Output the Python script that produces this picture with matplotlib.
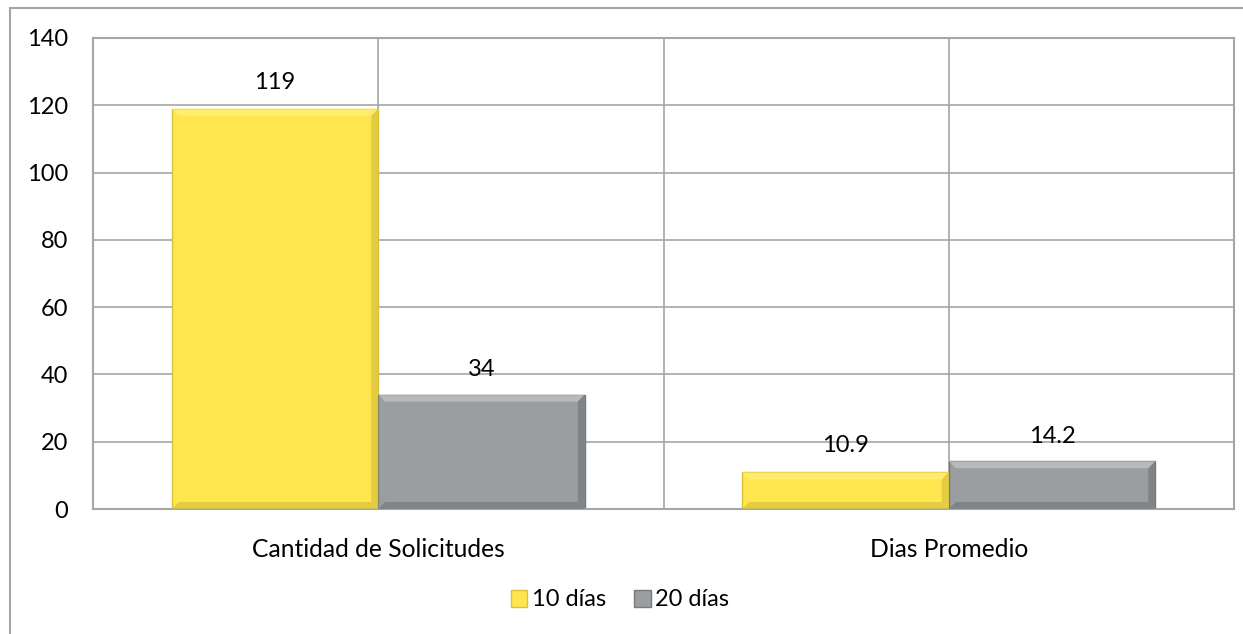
import numpy as np
import matplotlib
matplotlib.use("Agg")
import matplotlib.pyplot as plt
from matplotlib.patches import Polygon, Rectangle

# Data
categories = ["Cantidad de Solicitudes", "Dias Promedio"]
series_names = ["10 días", "20 días"]
values_10 = [119, 10.9]
values_20 = [34, 14.2]
value_labels_10 = ["119", "10.9"]
value_labels_20 = ["34", "14.2"]
y_ticks = [0, 20, 40, 60, 80, 100, 120, 140]

# Styles
yellow = "#FFE64F"
yellow_light = "#FFF07A"
yellow_dark = "#D9C23A"
gray = "#9B9EA1"
gray_light = "#C4C6C8"
gray_dark = "#77797B"
line_gray = "#A6A6A6"
plt.rcParams["font.family"] = ["Lato", "DejaVu Sans"]
plt.rcParams["font.size"] = 17

fig = plt.figure(figsize=(12.43, 6.34), dpi=100)
ax = fig.add_axes([93 / 1243, 1 - 509 / 634, (1234 - 93) / 1243, (509 - 38) / 634])

# outer chart border (only left/top visible in the crop)
fig.patches.append(Rectangle((10 / 1243, -0.1), 1.2, 1 - 8 / 634 + 0.1,
                             transform=fig.transFigure, fill=False,
                             edgecolor=line_gray, linewidth=1.5, zorder=0))

x = np.arange(len(categories))
w = 0.362

ax.set_xlim(-0.5, len(categories) - 0.5)
ax.set_ylim(0, 140)

# gridlines
for t in y_ticks:
    ax.axhline(t, color=line_gray, linewidth=1.2, zorder=0)
for gx in np.arange(-0.5, len(categories), 0.5):
    ax.axvline(gx, color=line_gray, linewidth=1.2, zorder=0)

# bevel size in data units (about 7 px)
bx = 7 * (len(categories)) / (1234 - 93)
by = 7 * 140 / (509 - 38)


def bevel_bar(x0, h, face, light, dark):
    x1 = x0 + w
    ax.bar(x0, h, width=w, align="edge", color=face, edgecolor=dark,
           linewidth=1, zorder=2)
    polys = [
        ([(x0, h), (x1, h), (x1 - bx, h - by), (x0 + bx, h - by)], light),
        ([(x1, h), (x1, 0), (x1 - bx, by), (x1 - bx, h - by)], dark),
        ([(x0, 0), (x1, 0), (x1 - bx, by), (x0 + bx, by)], dark),
    ]
    for pts, c in polys:
        ax.add_patch(Polygon(pts, closed=True, facecolor=c, edgecolor="none",
                             zorder=3, alpha=0.7))


for i in range(len(categories)):
    bevel_bar(x[i] - w, values_10[i], yellow, yellow_light, yellow_dark)
    bevel_bar(x[i], values_20[i], gray, gray_light, gray_dark)
    ax.annotate(value_labels_10[i], (x[i] - w / 2, values_10[i]),
                xytext=(0, 19), textcoords="offset points",
                ha="center", va="center", zorder=5)
    ax.annotate(value_labels_20[i], (x[i] + w / 2, values_20[i]),
                xytext=(0, 18), textcoords="offset points",
                ha="center", va="center", zorder=5)

ax.set_yticks(y_ticks)
ax.set_xticks(x)
ax.set_xticklabels(categories, fontsize=17.7)
ax.tick_params(axis="both", length=0)
ax.tick_params(axis="y", pad=18)
ax.tick_params(axis="x", pad=21)
for s in ax.spines.values():
    s.set_color(line_gray)
    s.set_linewidth(1.5)

# legend
handles = [Rectangle((0, 0), 1, 1, facecolor=yellow, edgecolor=yellow_dark),
           Rectangle((0, 0), 1, 1, facecolor=gray, edgecolor=gray_dark)]
fig.legend(handles, series_names, loc="center", bbox_to_anchor=(620 / 1243, 1 - 600 / 634),
           ncol=2, frameon=False, handlelength=0.7, handleheight=0.7,
           handletextpad=0.2, columnspacing=1.2)

fig.savefig("out.png", dpi=100)
